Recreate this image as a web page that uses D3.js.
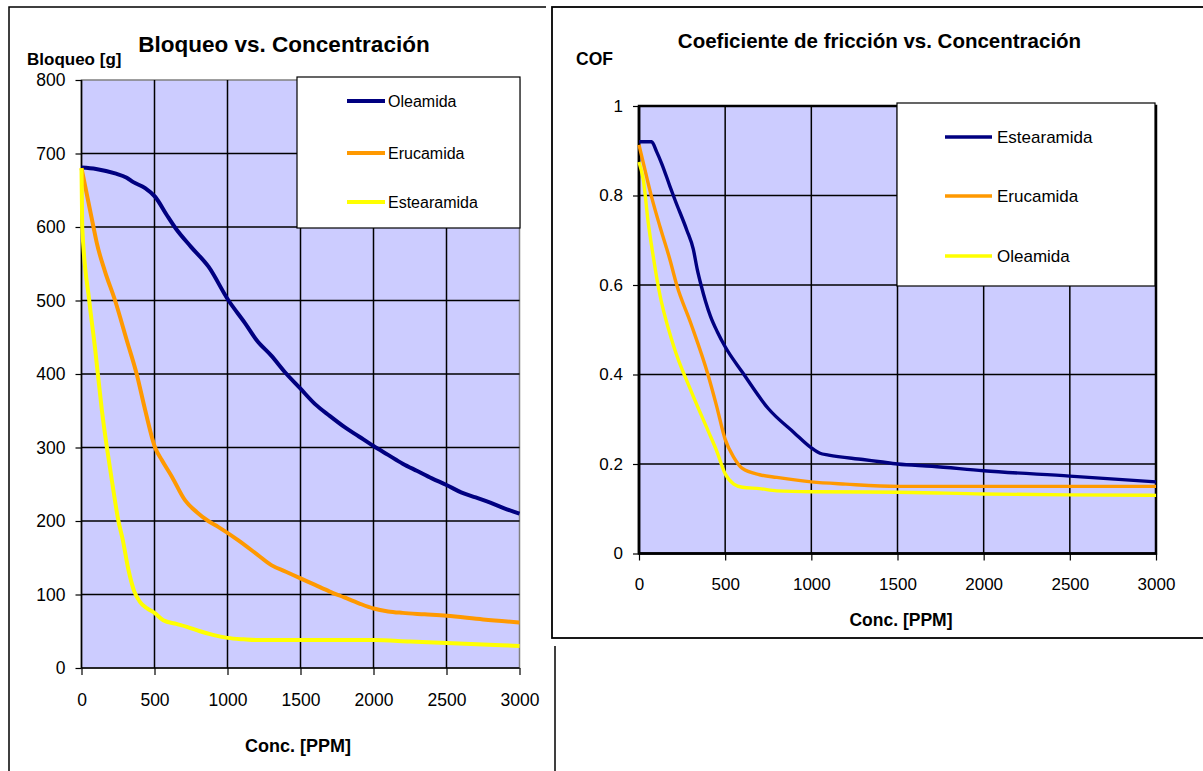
<!DOCTYPE html>
<html>
<head>
<meta charset="utf-8">
<script src="https://cdn.jsdelivr.net/npm/d3@7"></script>
<style>
  html, body { margin: 0; padding: 0; background: #fff; }
  svg { display: block; }
  text { font-family: "Liberation Sans", Arial, sans-serif; fill: #000; }
</style>
</head>
<body>
<svg id="chart" width="1203" height="771"></svg>
<script>
// ---- Data: blocking force [g] vs. concentration [PPM]
const blockTicksX = [0, 500, 1000, 1500, 2000, 2500, 3000];
const blockTicksY = [0, 100, 200, 300, 400, 500, 600, 700, 800];
const blockSeriesNames = ["Oleamida", "Erucamida", "Estearamida"];
const blockOleamida = [
  [0, 681], [100, 679], [230, 673], [310, 667], [355, 661], [436, 653], [505, 641],
  [585, 616], [642, 599], [750, 573], [870, 546], [1007, 500], [1121, 469], [1200, 446],
  [1300, 425], [1400, 401], [1500, 380], [1600, 359], [1700, 343], [1800, 328],
  [1900, 315], [2000, 302], [2100, 290], [2200, 278], [2300, 268], [2400, 258],
  [2500, 249], [2600, 239], [2700, 232], [2800, 225], [2900, 217], [3000, 210]
];
const blockErucamida = [
  [0, 680], [82, 600], [105, 578], [160, 540], [230, 500], [310, 446], [378, 400],
  [436, 351], [504, 300], [550, 283], [620, 260], [710, 228], [790, 212], [868, 200],
  [936, 192], [1072, 174], [1200, 155], [1300, 140], [1400, 131], [1500, 122],
  [1600, 113], [1700, 104], [1800, 96], [1900, 88], [2000, 81], [2100, 77],
  [2200, 75], [2350, 73], [2500, 71], [2750, 66], [3000, 62]
];
const blockEstearamida = [
  [0, 680], [5, 600], [53, 500], [94, 433], [112, 400], [140, 350], [174, 300],
  [212, 250], [253, 200], [283, 174], [320, 135], [360, 105], [400, 90], [450, 81],
  [500, 75], [560, 65], [650, 60], [722, 56], [812, 50], [900, 45], [1000, 41],
  [1110, 39], [1200, 38], [1500, 38], [2000, 38], [2250, 36], [2500, 34],
  [2750, 32], [3000, 30]
];

// ---- Data: coefficient of friction vs. concentration [PPM]
const cofTicksX = [0, 500, 1000, 1500, 2000, 2500, 3000];
const cofTicksY = [0, 0.2, 0.4, 0.6, 0.8, 1];
const cofTickLabelsY = ["0", "0.2", "0.4", "0.6", "0.8", "1"];
const cofSeriesNames = ["Estearamida", "Erucamida", "Oleamida"];
const cofEstearamida = [
  [0, 0.92], [73, 0.92], [102, 0.898], [131, 0.872], [180, 0.82], [209, 0.79],
  [277, 0.723], [315, 0.68], [338, 0.635], [360, 0.6], [385, 0.565], [415, 0.53],
  [455, 0.495], [500, 0.462], [600, 0.405], [750, 0.324], [900, 0.27], [1000, 0.236],
  [1050, 0.224], [1100, 0.22], [1300, 0.21], [1400, 0.205], [1500, 0.2],
  [1700, 0.195], [2000, 0.185], [2500, 0.173], [3000, 0.16]
];
const cofErucamida = [
  [0, 0.913], [44, 0.842], [73, 0.797], [122, 0.73], [180, 0.656], [219, 0.6],
  [300, 0.515], [400, 0.4], [450, 0.33], [500, 0.255], [550, 0.215], [600, 0.19],
  [700, 0.176], [800, 0.17], [1000, 0.16], [1200, 0.155], [1500, 0.15],
  [2000, 0.15], [2500, 0.15], [3000, 0.15]
];
const cofOleamida = [
  [0, 0.875], [25, 0.835], [54, 0.738], [83, 0.663], [112, 0.596], [200, 0.465],
  [300, 0.365], [400, 0.275], [450, 0.23], [500, 0.178], [550, 0.155], [600, 0.148],
  [700, 0.145], [800, 0.14], [1000, 0.138], [1500, 0.137], [2000, 0.133],
  [2500, 0.131], [3000, 0.13]
];

const NAVY = "#000080", ORANGE = "#FF9900", YELLOW = "#FFFF00", PLOT_BG = "#CCCCFF";

const svg = d3.select("#chart");

// Draws one chart panel: plot area, grid, axes, series and legend
function drawPanel(opt) {
  const g = svg.append("g");
  const x = d3.scaleLinear().domain([0, 3000]).range([opt.left, opt.right]);
  const y = d3.scaleLinear().domain(opt.yDomain).range([opt.bottom, opt.top]);

  // plot area
  g.append("rect")
    .attr("x", opt.left).attr("y", opt.top)
    .attr("width", opt.right - opt.left).attr("height", opt.bottom - opt.top)
    .attr("fill", PLOT_BG)
    .attr("stroke", opt.plotStroke).attr("stroke-width", opt.plotStrokeWidth);

  // grid lines
  g.append("g").selectAll("line.vg")
    .data(opt.ticksX.filter(d => d > 0 && d < 3000))
    .join("line")
    .attr("x1", d => x(d)).attr("x2", d => x(d))
    .attr("y1", opt.top).attr("y2", opt.bottom)
    .attr("stroke", "#000").attr("stroke-width", 1.5);
  g.append("g").selectAll("line.hg")
    .data(opt.ticksY.filter(d => d > opt.yDomain[0] && d < opt.yDomain[1]))
    .join("line")
    .attr("x1", opt.left).attr("x2", opt.right)
    .attr("y1", d => y(d)).attr("y2", d => y(d))
    .attr("stroke", "#000").attr("stroke-width", 1.5);

  // axes
  const xAxis = d3.axisBottom(x).tickValues(opt.ticksX).tickSize(7).tickPadding(10)
    .tickFormat(d3.format("d"));
  const yAxis = d3.axisLeft(y).tickValues(opt.ticksY).tickSize(6).tickPadding(10)
    .tickFormat((d, i) => opt.tickLabelsY ? opt.tickLabelsY[i] : d);

  const gx = g.append("g").attr("transform", `translate(0,${opt.bottom})`).call(xAxis);
  const gy = g.append("g").attr("transform", `translate(${opt.left},0)`).call(yAxis);
  [gx, gy].forEach(ax => {
    ax.select(".domain").attr("stroke", "#000").attr("stroke-width", opt.axisWidth);
    ax.selectAll(".tick line").attr("stroke", "#000").attr("stroke-width", 1.2);
    ax.selectAll("text").attr("font-size", opt.tickFont)
      .attr("font-family", "'Liberation Sans', Arial, sans-serif").attr("fill", "#000");
  });
  gx.selectAll(".domain").attr("d", `M${opt.left},0H${opt.right}`);
  gy.selectAll(".domain").attr("d", `M0,${opt.bottom}V${opt.top}`);
  gx.selectAll("text").attr("dy", null).attr("y", opt.xTickBaseline - opt.bottom)
    .attr("dominant-baseline", "auto");

  // series
  const line = d3.line().x(d => x(d[0])).y(d => y(d[1])).curve(d3.curveMonotoneX);
  opt.series.forEach(s => {
    g.append("path").datum(s.data)
      .attr("d", line)
      .attr("fill", "none")
      .attr("stroke", s.color)
      .attr("stroke-width", opt.lineWidth)
      .attr("stroke-linejoin", "round");
  });

  // legend
  const L = opt.legend;
  g.append("rect")
    .attr("x", L.x).attr("y", L.y).attr("width", L.w).attr("height", L.h)
    .attr("fill", "#fff").attr("stroke", "#000").attr("stroke-width", 1.2);
  opt.series.forEach((s, i) => {
    const ly = L.rows[i];
    g.append("line")
      .attr("x1", L.lineX1).attr("x2", L.lineX2)
      .attr("y1", ly).attr("y2", ly)
      .attr("stroke", s.color).attr("stroke-width", opt.lineWidth);
    g.append("text")
      .attr("x", L.textX).attr("y", ly)
      .attr("dy", "0.35em")
      .attr("font-size", L.font)
      .text(s.name);
  });

  // titles
  g.append("text").attr("x", opt.title.x).attr("y", opt.title.y)
    .attr("text-anchor", "middle").attr("font-weight", "bold")
    .attr("font-size", opt.title.size).text(opt.title.text);
  g.append("text").attr("x", opt.yTitle.x).attr("y", opt.yTitle.y)
    .attr("font-weight", "bold").attr("font-size", opt.yTitle.size).text(opt.yTitle.text);
  g.append("text").attr("x", opt.xTitle.x).attr("y", opt.xTitle.y)
    .attr("text-anchor", "middle").attr("font-weight", "bold")
    .attr("font-size", opt.xTitle.size).text(opt.xTitle.text);
}

// left chart frame (runs past the bottom of the page)
svg.append("rect").attr("x", 9).attr("y", 7).attr("width", 546).attr("height", 820)
  .attr("fill", "#fff").attr("stroke", "#000").attr("stroke-width", 1.5);

drawPanel({
  left: 81.5, right: 519.5, top: 80, bottom: 668,
  yDomain: [0, 800], ticksX: blockTicksX, ticksY: blockTicksY,
  plotStroke: "#808080", plotStrokeWidth: 1.5, axisWidth: 1.6,
  tickFont: "17.5px", xTickBaseline: 706, lineWidth: 4,
  series: [
    { name: blockSeriesNames[0], color: NAVY, data: blockOleamida },
    { name: blockSeriesNames[1], color: ORANGE, data: blockErucamida },
    { name: blockSeriesNames[2], color: YELLOW, data: blockEstearamida }
  ],
  legend: { x: 297, y: 77, w: 223, h: 151, rows: [101, 153, 202],
            lineX1: 347, lineX2: 385, textX: 388, font: "16px" },
  title: { text: "Bloqueo vs. Concentración", x: 284, y: 52, size: "22.5px" },
  yTitle: { text: "Bloqueo [g]", x: 27, y: 65, size: "17px" },
  xTitle: { text: "Conc. [PPM]", x: 298, y: 752, size: "18px" }
});

// right chart: white card over the left frame's edge
svg.append("rect").attr("x", 546).attr("y", 0).attr("width", 700).attr("height", 646)
  .attr("fill", "#fff");
svg.append("rect").attr("x", 552).attr("y", 7).attr("width", 700).attr("height", 631)
  .attr("fill", "#fff").attr("stroke", "#000").attr("stroke-width", 1.8);

drawPanel({
  left: 639, right: 1156, top: 106, bottom: 553.5,
  yDomain: [0, 1], ticksX: cofTicksX, ticksY: cofTicksY, tickLabelsY: cofTickLabelsY,
  plotStroke: "#000", plotStrokeWidth: 2.5, axisWidth: 2.5,
  tickFont: "17px", xTickBaseline: 590, lineWidth: 3.4,
  series: [
    { name: cofSeriesNames[0], color: NAVY, data: cofEstearamida },
    { name: cofSeriesNames[1], color: ORANGE, data: cofErucamida },
    { name: cofSeriesNames[2], color: YELLOW, data: cofOleamida }
  ],
  legend: { x: 897, y: 103, w: 258, h: 183, rows: [137, 196, 256],
            lineX1: 945, lineX2: 992, textX: 997, font: "17px" },
  title: { text: "Coeficiente de fricción vs. Concentración", x: 879.5, y: 48, size: "20.5px" },
  yTitle: { text: "COF", x: 576, y: 65, size: "17.5px" },
  xTitle: { text: "Conc. [PPM]", x: 901, y: 626, size: "17.5px" }
});
</script>
</body>
</html>
